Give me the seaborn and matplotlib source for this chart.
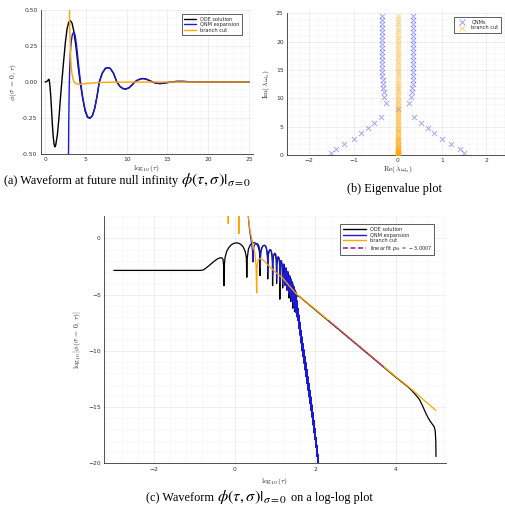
import numpy as np
import matplotlib
matplotlib.use("Agg")
import matplotlib.pyplot as plt
from matplotlib.ticker import MultipleLocator, FormatStrFormatter
from matplotlib.lines import Line2D
import seaborn as sns

sns.set_theme(style="white")
plt.rcParams["font.family"] = ["DejaVu Sans"]
plt.rcParams["axes.unicode_minus"] = True

BLACK = "#000000"
BLUE = "#1a1ad6"
ORANGE = "#ffa500"
PURPLE = "#9b2a9b"

# ---------------- (a) waveform at future null infinity ----------------
ode_t = [0.0, 0.15, 0.3, 0.4, 0.48, 0.54, 0.6, 0.7, 0.8, 0.9, 1.0, 1.1, 1.2, 1.3,
         1.5, 1.7, 1.9, 2.05, 2.3, 2.5, 2.7, 2.9, 3.1, 3.3, 3.5, 3.8, 4.05, 4.3,
         4.6, 4.9, 5.2, 5.5, 5.8, 6.1, 6.4, 6.65, 7.0, 7.4, 7.7, 8.0, 8.4, 8.8,
         9.2, 9.6, 9.9, 10.3, 10.7, 11.0, 11.3, 11.7, 12.0, 12.4, 12.8, 13.2,
         13.6, 14.1, 14.6, 15.1, 15.6, 16.2, 16.9, 17.6, 18.5, 20.0, 22.0, 25.0]
ode_phi = [0.0014, 0.0016, 0.008, 0.016, 0.019, 0.0, -0.03, -0.10, -0.2, -0.3,
           -0.38, -0.43, -0.45, -0.44, -0.37, -0.25, -0.1, 0.0, 0.16, 0.28, 0.37,
           0.415, 0.426, 0.41, 0.36, 0.24, 0.11, 0.0, -0.11, -0.2, -0.245, -0.252,
           -0.235, -0.18, -0.09, 0.0, 0.06, 0.095, 0.10, 0.094, 0.06, 0.0, -0.032,
           -0.047, -0.049, -0.04, -0.018, 0.0, 0.012, 0.021, 0.024, 0.02, 0.01,
           0.0, -0.008, -0.011, -0.008, -0.003, 0.001, 0.004, 0.004, 0.002,
           0.001, 0.0005, 0.0003, 0.0002]

qnm_t = [2.86, 2.9, 2.95, 3.0, 3.1, 3.2, 3.35, 3.5, 3.57, 3.7, 3.85, 4.05, 4.3,
         4.6, 4.9, 5.2, 5.5, 5.8, 6.1, 6.4, 6.65, 7.0, 7.4, 7.7, 8.0, 8.4, 8.8,
         9.2, 9.6, 9.9, 10.3, 10.7, 11.0, 11.3, 11.7, 12.0, 12.4, 12.8, 13.2,
         13.6, 14.1, 14.6, 15.1, 15.6, 16.2, 16.9, 17.6, 18.5, 20.0, 22.0, 25.0]
qnm_phi = [-0.6, -0.3, -0.08, 0.06, 0.2, 0.28, 0.33, 0.345, 0.345, 0.32, 0.26,
           0.15, 0.02, -0.1, -0.19, -0.24, -0.25, -0.235, -0.18, -0.09, 0.0, 0.06,
           0.095, 0.10, 0.094, 0.06, 0.0, -0.032, -0.047, -0.049, -0.04, -0.018,
           0.0, 0.012, 0.021, 0.024, 0.02, 0.01, 0.0, -0.008, -0.011, -0.008,
           -0.003, 0.001, 0.004, 0.004, 0.002, 0.001, 0.0004, 0.0002, 0.0001]

cut_t = [2.96, 3.0, 3.05, 3.1, 3.2, 3.3, 3.45, 3.6, 3.8, 4.0, 4.3, 4.8, 5.5, 6.5,
         8.0, 10.0, 14.0, 20.0, 25.0]
cut_phi = [0.7, 0.45, 0.32, 0.22, 0.11, 0.055, 0.015, -0.002, -0.011, -0.015,
           -0.016, -0.013, -0.008, -0.004, -0.0015, -0.0006, -0.0002, 0.0, 0.0]

# ---------------- (b) eigenvalues ----------------
qnm_re_left = [-1.51, -1.40, -1.21, -1.00, -0.82, -0.68, -0.53, -0.37, -0.26,
               -0.31, -0.32, -0.33, -0.34, -0.34, -0.35, -0.35, -0.35, -0.35,
               -0.35, -0.35, -0.35, -0.35, -0.35, -0.35, -0.35, -0.35, -0.35,
               -0.35, -0.35, -0.35]
qnm_im = [0.41, 1.06, 1.88, 2.76, 3.82, 4.76, 5.70, 6.76, 9.2, 10.2, 11.2, 11.9,
          12.6, 13.3, 14.0, 14.7, 15.4, 16.1, 16.8, 17.5, 18.2, 18.9, 19.6,
          20.3, 21.0, 21.7, 22.4, 23.1, 23.8, 24.5]
special_re = [0.0]
special_im = [8.05]
cut_im = [0.01, 0.03, 0.05, 0.08, 0.11, 0.15, 0.19, 0.24, 0.29, 0.35, 0.41,
          0.48, 0.56, 0.64, 0.72, 0.81, 0.9, 1.0, 1.1, 1.21, 1.32, 1.44, 1.56,
          1.69, 1.82, 1.96, 2.1, 2.25, 2.4, 2.56, 2.72, 2.89, 3.06, 3.24, 3.42,
          3.61, 3.8, 4.0, 4.2, 4.41, 4.62, 4.84, 5.06, 5.29, 5.52, 5.76, 6.0,
          6.25, 6.5, 6.76, 7.02, 7.29, 7.56, 7.84, 8.12, 8.41, 8.7, 9.0, 9.3,
          9.61, 9.92, 10.24, 10.56, 10.89, 11.22, 11.56, 11.9, 12.25, 12.6,
          12.96, 13.32, 13.69, 14.06, 14.44, 14.82, 15.21, 15.6, 16.0, 16.4,
          16.81, 17.22, 17.64, 18.06, 18.49, 18.92, 19.36, 19.8, 20.25, 20.7,
          21.16, 21.62, 22.09, 22.56, 23.04, 23.52, 24.01, 24.5]
cut_re = [0.0] * len(cut_im)

# ---------------- (c) log-log waveform ----------------
ode_logt = [-3.0, -0.85, -0.78, -0.70, -0.60, -0.50, -0.42, -0.36, -0.32, -0.29,
            -0.275, -0.265, -0.255, -0.24, -0.20, -0.14, -0.08, -0.02, 0.04,
            0.09, 0.15, 0.21, 0.26, 0.29, 0.30, 0.31, 0.34, 0.39, 0.44, 0.49,
            0.54, 0.58, 0.61, 0.625, 0.63, 0.635, 0.65, 0.69, 0.73, 0.77, 0.80,
            0.815, 0.82, 0.825, 0.84, 0.87, 0.90, 0.925, 0.935, 0.94, 0.945,
            0.96, 0.99, 1.01, 1.03, 1.035, 1.04, 1.045, 1.06, 1.08, 1.10, 1.115,
            1.12, 1.125, 1.14, 1.16, 1.18, 1.19, 1.21, 1.23, 1.245, 1.26, 1.28,
            1.295, 1.31, 1.33, 1.345, 1.36, 1.38, 1.39, 1.41, 1.425, 1.44, 1.455,
            1.47, 1.485, 1.50, 1.52, 1.55, 1.6, 2.0, 2.5, 3.0, 3.5, 4.0, 4.3,
            4.4, 4.5, 4.58, 4.65, 4.7, 4.75, 4.8, 4.85, 4.9, 4.95, 4.975, 4.99,
            4.995]
ode_logphi = [-2.84, -2.84, -2.80, -2.6, -2.3, -2.0, -1.8, -1.72, -1.72, -1.85,
              -2.4, -4.2, -2.3, -1.7, -1.15, -0.78, -0.55, -0.43, -0.39, -0.41,
              -0.52, -0.75, -1.15, -1.7, -3.45, -1.8, -0.95, -0.55, -0.40, -0.38,
              -0.45, -0.7, -1.1, -1.6, -3.3, -1.7, -1.05, -0.7, -0.6, -0.7, -1.1,
              -1.7, -3.6, -1.8, -1.25, -1.0, -1.05, -1.5, -2.1, -4.2, -2.2, -1.6,
              -1.33, -1.4, -1.9, -2.5, -4.0, -2.5, -1.9, -1.65, -1.75, -2.3, -5.4,
              -2.5, -2.0, -1.98, -2.6, -4.4, -2.3, -2.35, -4.1, -2.65, -2.7, -4.6,
              -3.0, -3.05, -5.3, -3.35, -3.45, -5.6, -3.8, -3.85, -6.2, -4.2,
              -4.3, -6.5, -4.6, -4.8, -5.1, -5.15, -6.35, -7.85, -9.35, -10.85,
              -12.35, -13.2, -13.55, -13.95, -14.3, -14.8, -15.2, -15.6, -15.95,
              -16.25, -16.5, -16.75, -17.1, -18.0, -19.4]

qnm_logt = [0.33, 0.36, 0.39, 0.42, 0.44, 0.455, 0.462, 0.47, 0.49, 0.52, 0.55,
            0.58, 0.61, 0.628, 0.636, 0.638, 0.641, 0.65, 0.68, 0.71, 0.74,
            0.77, 0.795, 0.81, 0.818, 0.820, 0.823, 0.835, 0.86, 0.89, 0.915,
            0.932, 0.94, 0.944, 0.948, 0.96, 0.98, 1.0, 1.02, 1.035, 1.041,
            1.047, 1.06, 1.08, 1.10, 1.116, 1.121, 1.126, 1.14, 1.155, 1.17,
            1.184, 1.188, 1.192, 1.205, 1.22, 1.235, 1.246, 1.258, 1.272, 1.285,
            1.297, 1.309, 1.32, 1.331, 1.342, 1.353, 1.363, 1.374, 1.384, 1.394,
            1.403, 1.413, 1.422, 1.431, 1.44, 1.448, 1.456, 1.465, 1.473, 1.481,
            1.489, 1.497, 1.504, 1.512, 1.519, 1.526, 1.533, 1.540, 1.5475,
            1.550, 1.5625, 1.575, 1.5875, 1.600, 1.6125, 1.625, 1.6375, 1.650,
            1.6625, 1.675, 1.6875, 1.700, 1.7125, 1.725, 1.7375, 1.750, 1.7625,
            1.775, 1.7875, 1.800, 1.8125, 1.825, 1.8375, 1.850, 1.8625, 1.875,
            1.8875, 1.900, 1.9125, 1.925, 1.9375, 1.950, 1.9625, 1.975, 1.9875,
            2.000, 2.0125, 2.025, 2.0375, 2.050, 2.0625, 2.075, 2.0875, 2.100,
            2.11]
qnm_logphi = [2.3, 1.0, 0.2, -0.5, -1.1, -2.1, -1.3, -0.9, -0.6, -0.48, -0.46,
              -0.5, -0.75, -1.2, -1.9, -2.6, -1.9, -1.2, -0.8, -0.63, -0.6, -0.7,
              -1.0, -1.5, -2.1, -3.0, -2.1, -1.5, -1.1, -1.0, -1.15, -1.6, -2.2,
              -3.3, -2.2, -1.6, -1.35, -1.31, -1.4, -1.9, -3.6, -2.0, -1.7, -1.62,
              -1.75, -2.3, -3.9, -2.4, -2.0, -1.95, -2.2, -3.0, -4.0, -2.9, -2.35,
              -2.27, -2.9, -4.2, -2.9, -2.6, -3.1, -4.6, -3.2, -2.93, -3.5, -4.9,
              -3.5, -3.26, -3.8, -5.2, -3.9, -3.6, -4.2, -5.6, -4.3, -3.95, -4.6,
              -6.0, -4.6, -4.3, -5.0, -6.3, -5.0, -4.65, -5.3, -6.6, -5.4, -5.0,
              -5.7, -7.0, -5.55, -7.3, -6.2, -8.0, -6.8, -8.6, -7.45, -9.3,
              -8.15, -10.0, -8.75, -10.5, -9.35, -11.1, -9.9, -11.7, -10.5, -12.3,
              -11.05, -12.9, -11.65, -13.5, -12.3, -14.1, -12.9, -14.7, -13.5,
              -15.3, -14.1, -15.9, -14.8, -16.6, -15.5, -17.3, -16.2, -17.9,
              -16.9, -18.6, -17.7, -19.4, -18.4, -20.2, -19.2, -21.0, -20.1,
              -21.0]

cut_logt = [-0.6, -0.17, -0.16, -0.15, 0.09, 0.105, 0.12, 0.30, 0.33, 0.38,
            0.44, 0.50, 0.53, 0.545, 0.555, 0.58, 0.63, 0.70, 0.87, 1.0, 1.2,
            1.35, 1.52, 2.0, 2.5, 3.0, 3.5, 4.0, 4.3, 4.5, 4.7, 4.85, 4.99]
cut_logphi = [3.0, 2.6, 1.33, 2.6, 2.6, 0.44, 2.6, 2.6, 2.2, 0.74, -0.3, -1.33,
              -2.4, -4.85, -2.6, -1.9, -1.78, -1.9, -2.52, -2.95, -3.56, -4.2,
              -4.89, -6.3, -7.8, -9.3, -10.8, -12.3, -13.15, -13.75, -14.4,
              -14.85, -15.3]

fit_logt = [2.32, 3.69]
fit_logphi = [-7.29, -11.40]
fit_slope = -3.0007

# ---------------- figure ----------------
fig = plt.figure(figsize=(5.05, 5.05), dpi=100)
W = H = 505.0


def add_axes(left, top, right, bottom):
    return fig.add_axes([left / W, 1 - bottom / H, (right - left) / W, (bottom - top) / H])


ax_a = add_axes(41, 10, 253, 154)
ax_b = add_axes(287.2, 13.3, 508.2, 155)
ax_c = add_axes(104.3, 216, 445.7, 463.3)

LABEL_KW = dict(fontsize=5.4, math_fontfamily="cm", color="#222222")


def style_axes(ax, xmajor, xminor, ymajor, yminor):
    ax.set_facecolor("white")
    for side in ("top", "right"):
        ax.spines[side].set_visible(False)
    for side in ("left", "bottom"):
        ax.spines[side].set_color("#333333")
        ax.spines[side].set_linewidth(0.6)
    ax.xaxis.set_major_locator(MultipleLocator(xmajor))
    ax.xaxis.set_minor_locator(MultipleLocator(xminor))
    ax.yaxis.set_major_locator(MultipleLocator(ymajor))
    ax.yaxis.set_minor_locator(MultipleLocator(yminor))
    ax.grid(True, which="major", color="black", alpha=0.09, linewidth=0.5)
    ax.grid(True, which="minor", color="black", alpha=0.045, linewidth=0.4)
    ax.tick_params(which="major", direction="in", length=2.5, width=0.5,
                   labelsize=4.3, labelcolor="#333333", color="#333333", pad=2.5)
    ax.tick_params(which="minor", direction="in", length=1.3, width=0.4,
                   color="#333333")
    ax.set_axisbelow(True)


def make_legend(ax, handles, labels, anchor, handlelength):
    leg = ax.legend(handles, labels, loc="upper right", bbox_to_anchor=anchor,
                    fontsize=3.6, frameon=True, fancybox=False, framealpha=1,
                    edgecolor="#444444", borderpad=0.5, labelspacing=0.12,
                    handlelength=handlelength, handletextpad=0.8, borderaxespad=0)
    leg.get_frame().set_linewidth(0.6)
    return leg


# (a)
sns.lineplot(x=ode_t, y=ode_phi, sort=False, estimator=None, ax=ax_a,
             color=BLACK, linewidth=1.0)
sns.lineplot(x=qnm_t, y=qnm_phi, sort=False, estimator=None, ax=ax_a,
             color=BLUE, linewidth=1.0)
sns.lineplot(x=cut_t, y=cut_phi, sort=False, estimator=None, ax=ax_a,
             color=ORANGE, linewidth=1.0)
ax_a.set_xlim(-0.5, 25.5)
ax_a.set_ylim(-0.5, 0.5)
style_axes(ax_a, 5, 1, 0.25, 0.05)
ax_a.yaxis.set_major_formatter(FormatStrFormatter("%.2f"))
ax_a.set_xlabel(r"$\log_{10}(\tau)$", labelpad=0.5, **LABEL_KW)
ax_a.set_ylabel(r"$\phi(\sigma\,=\,0,\,\tau)$", labelpad=2, **LABEL_KW)
make_legend(ax_a,
            [Line2D([], [], color=BLACK, lw=1.0), Line2D([], [], color=BLUE, lw=1.0),
             Line2D([], [], color=ORANGE, lw=1.0)],
            ["ODE solution", "QNM expansion", "branch cut"], (0.948, 0.972), 2.4)

# (b)
qnm_re_right = [-v for v in qnm_re_left]
sns.scatterplot(x=cut_re, y=cut_im, ax=ax_b, marker="x",
                color=ORANGE, alpha=0.35, s=14, linewidth=0.7, zorder=3)
sns.scatterplot(x=qnm_re_left + qnm_re_right + special_re,
                y=qnm_im + qnm_im + special_im, ax=ax_b, marker="x",
                color="#3c3cf0", alpha=0.45, s=14, linewidth=0.7, zorder=2)
ax_b.set_xlim(-2.5, 2.5)
ax_b.set_ylim(0, 25)
style_axes(ax_b, 1, 0.2, 5, 1)
ax_b.set_xlabel(r"$\mathrm{Re}(\,\lambda\omega_n)$", labelpad=0.5, **LABEL_KW)
ax_b.set_ylabel(r"$\mathrm{Im}(\,\lambda\omega_n)$", labelpad=3, **LABEL_KW)
make_legend(ax_b,
            [Line2D([], [], ls="", marker="x", color="#3c3cf0", alpha=0.5, ms=4, mew=0.7),
             Line2D([], [], ls="", marker="x", color=ORANGE, alpha=0.5, ms=4, mew=0.7)],
            ["QNMs", "branch cut"], (0.967, 0.972), 2.2)

# (c)
sns.lineplot(x=ode_logt, y=ode_logphi, sort=False, estimator=None, ax=ax_c,
             color=BLACK, linewidth=0.9)
sns.lineplot(x=qnm_logt, y=qnm_logphi, sort=False, estimator=None, ax=ax_c,
             color=BLUE, linewidth=0.8)
sns.lineplot(x=cut_logt, y=cut_logphi, sort=False, estimator=None, ax=ax_c,
             color=ORANGE, linewidth=0.9)
sns.lineplot(x=fit_logt, y=fit_logphi, sort=False, estimator=None, ax=ax_c,
             color=PURPLE, linewidth=1.0, linestyle=(0, (1.5, 0.6)))
ax_c.set_xlim(-3.236, 5.236)
ax_c.set_ylim(-20, 2)
style_axes(ax_c, 2, 0.4, 5, 1)
ax_c.set_xlabel(r"$\log_{10}(\tau)$", labelpad=3, **LABEL_KW)
ax_c.set_ylabel(r"$\log_{10}|\phi(\sigma\,=\,0,\,\tau)|$", labelpad=4, **LABEL_KW)
make_legend(ax_c,
            [Line2D([], [], color=BLACK, lw=1.0), Line2D([], [], color=BLUE, lw=1.0),
             Line2D([], [], color=ORANGE, lw=1.0),
             Line2D([], [], color=PURPLE, lw=1.2, ls=(0, (3, 1.5)))],
            ["ODE solution", "QNM expansion", "branch cut",
             r"linear fit $p_{fit}\,=\,%.4f$" % fit_slope], (0.9666, 0.966), 4.6)

# captions: plain words in Times-like serif, formulas slightly larger
CAP_KW = dict(fontsize=8.8, family="Liberation Serif", va="baseline", color="black")
MATH_KW = dict(fontsize=11.8, math_fontfamily="stix", va="baseline", color="black")

fig.text(178 / W, 1 - 184 / H, "(a) Waveform at future null infinity", ha="right", **CAP_KW)
fig.text(181 / W, 1 - 184 / H, r"$\phi(\tau,\sigma)|_{\sigma=0}$", ha="left", **MATH_KW)

fig.text(394 / W, 1 - 192 / H, "(b) Eigenvalue plot", ha="center", **CAP_KW)

fig.text(214 / W, 1 - 501 / H, "(c) Waveform", ha="right", **CAP_KW)
fig.text(217 / W, 1 - 501 / H, r"$\phi(\tau,\sigma)|_{\sigma=0}$", ha="left", **MATH_KW)
fig.text(291 / W, 1 - 501 / H, "on a log-log plot", ha="left", **CAP_KW)

fig.savefig("out.png", dpi=100, facecolor="white")
